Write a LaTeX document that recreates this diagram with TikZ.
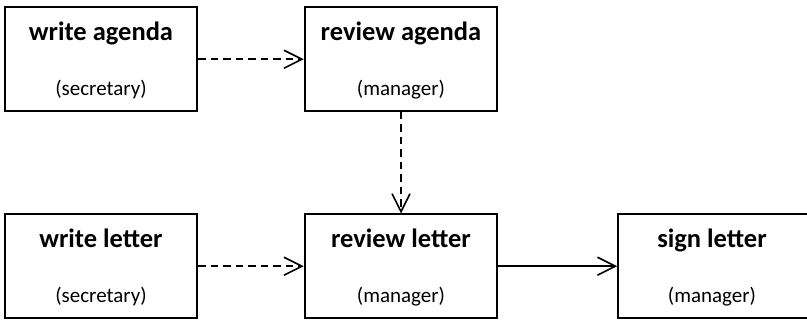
\documentclass[tikz,border=0pt]{standalone}
\usepackage{fontspec}
\setmainfont{Carlito}
\usetikzlibrary{arrows.meta}
\begin{document}
\begin{tikzpicture}[x=1pt,y=-1pt,
  box/.style={draw=black,line width=2pt,minimum width=192.5pt,minimum height=103.5pt,inner sep=0pt},
  title/.style={font=\fontsize{26.5}{30}\selectfont\bfseries,anchor=base,inner sep=0pt},
  role/.style={font=\fontsize{21}{25}\selectfont,anchor=base,inner sep=0pt},
  flow/.style={line width=1.6pt,-{Straight Barb[length=18pt,width=18pt,line width=1.6pt]}},
  dflow/.style={flow,dash pattern=on 7.5pt off 5pt}]
\useasboundingbox (0,0) rectangle (807,320);
\begin{scope}
\clip (0,0) rectangle (807,320);
\node[box] (wa) at (101,59.25) {};
\node[box] (ra) at (401,59.25) {};
\node[box] (wl) at (101,266.25) {};
\node[box] (rl) at (401,266.25) {};
\node[box] (sl) at (714.5,266.25) {};
\end{scope}
\foreach \n/\t/\r in {wa/write agenda/secretary, ra/review agenda/manager, wl/write letter/secretary, rl/review letter/manager}{
  \node[title] (\n t) at ([yshift=-34.5pt]\n.north) {\t};
  \node[role] (\n r) at ([yshift=16pt]\n.south) {(\r)};
}
\node[title] (slt) at ([yshift=-34.5pt]sl.north -| 712,0) {sign letter};
\node[role] (slr) at ([yshift=16pt]sl.south -| 712,0) {(manager)};
\draw[dflow] (wa.east) -- (ra.west);
\draw[dflow] (ra.south) -- (rl.north);
\draw[dflow] (wl.east) -- (rl.west);
\draw[flow] (rl.east) -- (sl.west);
\end{tikzpicture}
\end{document}
